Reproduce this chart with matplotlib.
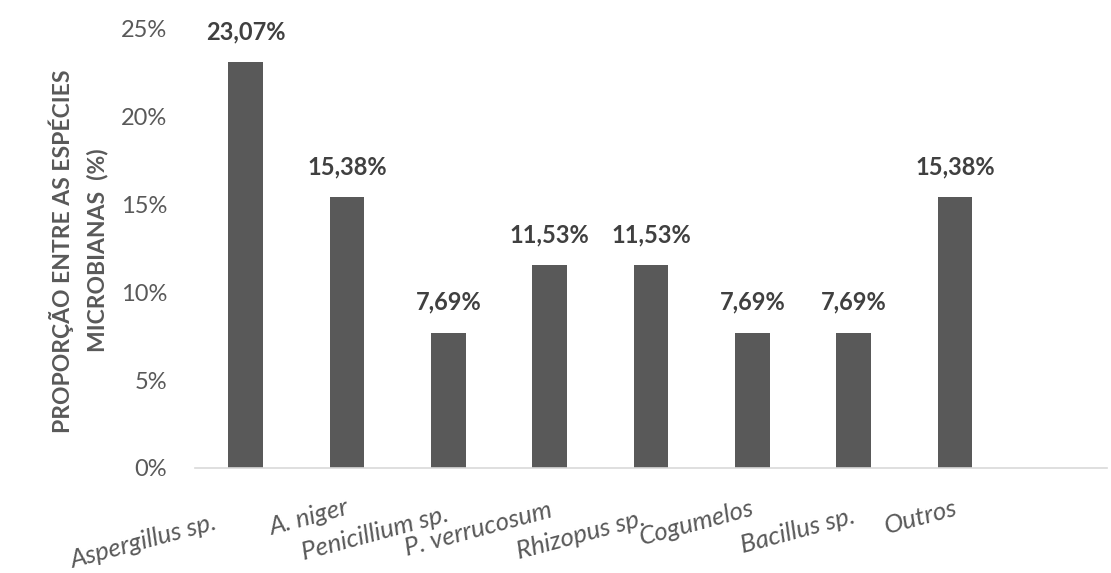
import matplotlib
matplotlib.use("Agg")
import matplotlib.pyplot as plt
from matplotlib.transforms import ScaledTranslation

plt.rcParams['font.family'] = ['Lato', 'DejaVu Sans']

categories = ["Aspergillus sp.", "A. niger", "Penicillium sp.", "P. verrucosum",
              "Rhizopus sp.", "Cogumelos", "Bacillus sp.", "Outros", ""]
values = [23.07, 15.38, 7.69, 11.53, 11.53, 7.69, 7.69, 15.38, None]
value_labels = ["23,07%", "15,38%", "7,69%", "11,53%", "11,53%", "7,69%", "7,69%", "15,38%", ""]
yticks = [0, 5, 10, 15, 20, 25]
ytick_labels = ["0%", "5%", "10%", "15%", "20%", "25%"]

fig = plt.figure(figsize=(11.11, 5.73), dpi=100)
ax = fig.add_axes([195 / 1111, 105 / 573, 912 / 1111, 439.7 / 573])

pos = list(range(len(categories)))
bar_pos = [p for p, v in zip(pos, values) if v is not None]
bar_vals = [v for v in values if v is not None]
ax.bar(bar_pos, bar_vals, width=0.34, color="#595959", zorder=2)

for x, v, lab in zip(bar_pos, bar_vals, value_labels):
    ax.annotate(lab, (x, v), xytext=(0, 22), textcoords="offset points",
                ha="center", va="center", fontsize=17, fontweight="bold",
                color="#404040")

ax.set_xlim(-0.5, len(categories) - 0.5)
ax.set_ylim(0, 25)
ax.set_yticks(yticks)
ax.set_yticklabels(ytick_labels, fontsize=17, color="#595959")
ax.tick_params(axis="y", length=0, pad=20)

ax.set_xticks(pos)
ax.set_xticklabels(categories, rotation=15, ha="right", rotation_mode="anchor",
                   fontsize=18.5, fontstyle="italic", color="#595959")
ax.tick_params(axis="x", length=0, pad=21)

# per-label nudges (pixels) for the staggered category labels
nudges_px = [(-32, -14), (-2, 1), (-3, -6), (-1, -1), (-9, -9), (-2, 1), (-2, -7), (-1, 1), (0, 0)]
for lbl, (dx, dy) in zip(ax.get_xticklabels(), nudges_px):
    lbl.set_transform(lbl.get_transform() + ScaledTranslation(dx / 100, dy / 100, fig.dpi_scale_trans))

for s in ["top", "right", "left"]:
    ax.spines[s].set_visible(False)
ax.spines["bottom"].set_color("#d9d9d9")
ax.spines["bottom"].set_linewidth(1.2)

fig.text(61 / 1111, 1 - 251 / 573, "PROPORÇÃO ENTRE AS ESPÉCIES", rotation=90,
         ha="center", va="center", fontsize=16.5, fontweight="bold", color="#595959")
fig.text(98 / 1111, 1 - 250 / 573, "MICROBIANAS  (%)", rotation=90,
         ha="center", va="center", fontsize=16.5, fontweight="bold", color="#595959")

fig.savefig("out.png", dpi=100, facecolor="white")
